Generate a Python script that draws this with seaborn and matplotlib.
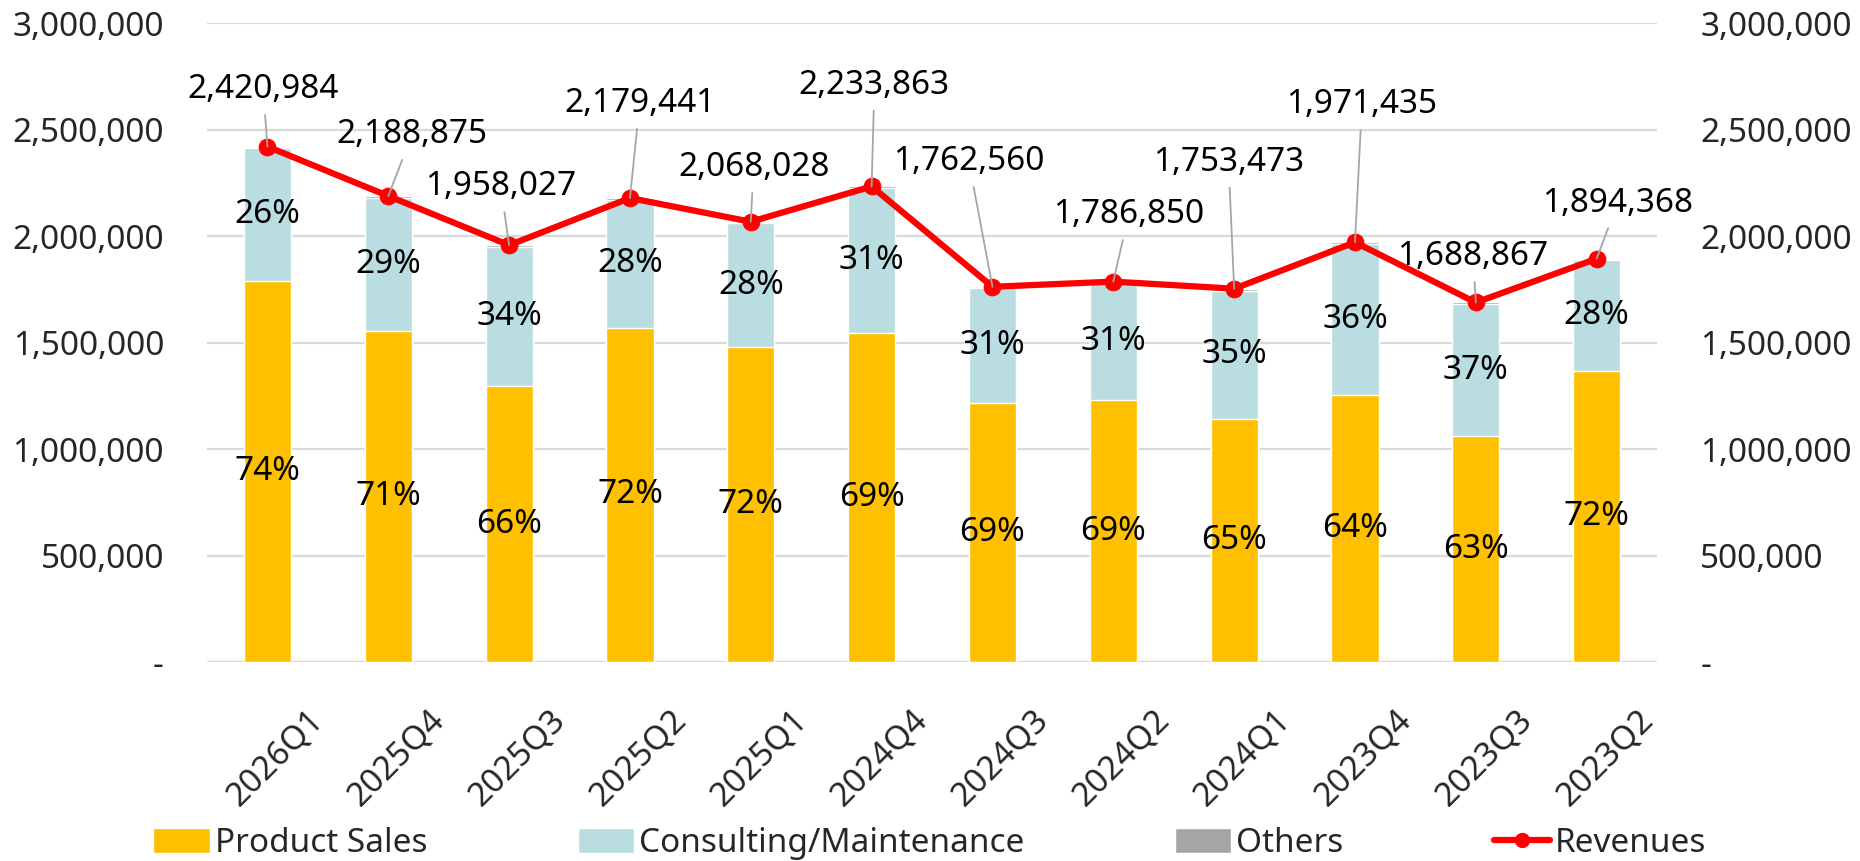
import numpy as np
import pandas as pd
import matplotlib
matplotlib.use("Agg")
import matplotlib.pyplot as plt
import matplotlib.transforms as mtransforms
from matplotlib.patches import Patch
from matplotlib.lines import Line2D
from matplotlib.ticker import FuncFormatter
import seaborn as sns

# quarterly revenue breakdown
quarters = ["2026Q1", "2025Q4", "2025Q3", "2025Q2", "2025Q1", "2024Q4",
            "2024Q3", "2024Q2", "2024Q1", "2023Q4", "2023Q3", "2023Q2"]
revenues = [2420984, 2188875, 1958027, 2179441, 2068028, 2233863,
            1762560, 1786850, 1753473, 1971435, 1688867, 1894368]
product_sales = [1790000, 1555000, 1295000, 1570000, 1480000, 1545000,
                 1215000, 1230000, 1140000, 1255000, 1060000, 1365000]
consulting = [623000, 626000, 655000, 601000, 580000, 681000,
              540000, 549000, 605000, 708000, 621000, 521000]
others = [8000, 8000, 8000, 8000, 8000, 8000,
          8000, 8000, 8000, 8000, 8000, 8000]
product_pct = ["74%", "71%", "66%", "72%", "72%", "69%",
               "69%", "69%", "65%", "64%", "63%", "72%"]
consulting_pct = ["26%", "29%", "34%", "28%", "28%", "31%",
                  "31%", "31%", "35%", "36%", "37%", "28%"]

# where each revenue label sits relative to its point (points)
label_offsets = [(-3, 41), (17, 44), (-6, 42), (7, 68), (2, 39), (2, 73),
                 (-17, 90), (11, 48), (-4, 91), (5, 99), (-2, 33), (15, 40)]

df = pd.DataFrame({"quarter": quarters, "product": product_sales,
                   "consulting": consulting, "others": others})
df["lvl1"] = df["product"]
df["lvl2"] = df["product"] + df["consulting"]
df["lvl3"] = df["lvl2"] + df["others"]

sns.set_theme(style="white")
plt.rcParams["font.family"] = ["Noto Sans", "DejaVu Sans"]
FS = 24

ORANGE = "#FFC000"
BLUE = "#B9DDE1"
GREY = "#A5A5A5"
RED = "#FF0000"

fig = plt.figure(figsize=(18.6, 8.61), dpi=100)
ax = fig.add_axes([0.1113, 0.2311, 0.7796, 0.7418])

W = 0.39
sns.barplot(data=df, x="quarter", y="lvl3", color=GREY, width=W,
            saturation=1, ax=ax, zorder=2)
sns.barplot(data=df, x="quarter", y="lvl2", color=BLUE, width=W,
            saturation=1, ax=ax, zorder=2)
sns.barplot(data=df, x="quarter", y="lvl1", color=ORANGE, width=W,
            saturation=1, ax=ax, zorder=2)

xs = np.arange(len(quarters))
sns.lineplot(x=xs, y=revenues, color=RED, lw=4.5, marker="o", markersize=12,
             markeredgecolor=RED, ax=ax, zorder=4)

# percentage labels in the middle of each segment
for i in xs:
    ax.text(i, product_sales[i] / 2, product_pct[i], ha="center", va="center",
            fontsize=FS, color="black", zorder=5)
    ax.text(i, product_sales[i] + consulting[i] / 2, consulting_pct[i],
            ha="center", va="center", fontsize=FS, color="black", zorder=5)

# revenue labels with leader lines
for i in xs:
    ax.annotate(f"{revenues[i]:,}", xy=(i, revenues[i]), xytext=label_offsets[i],
                textcoords="offset points", ha="center", va="center",
                fontsize=FS, color="black", zorder=6,
                arrowprops=dict(arrowstyle="-", color="#A6A6A6", lw=1.3,
                                shrinkA=4, shrinkB=0))

ax.set_xlim(-0.5, len(quarters) - 0.5)
ax.set_ylim(0, 3000000)
ax.set_yticks(np.arange(0, 3000001, 500000))
fmt = FuncFormatter(lambda v, p: "-" if v == 0 else f"{v:,.0f}")
ax.yaxis.set_major_formatter(fmt)
ax.grid(axis="y", color="#D9D9D9", lw=1.6, zorder=0)
ax.set_axisbelow(True)
for s in ax.spines.values():
    s.set_visible(False)
ax.set_xlabel("")
ax.set_ylabel("")
ax.tick_params(axis="y", length=0, pad=31, labelsize=FS)
ax.tick_params(axis="x", length=0, pad=30, labelsize=FS)
shift = mtransforms.ScaledTranslation(6 / 72, 0, fig.dpi_scale_trans)
for lbl in ax.get_xticklabels():
    lbl.set_rotation(45)
    lbl.set_ha("center")
    lbl.set_transform(lbl.get_transform() + shift)

ax2 = ax.twinx()
ax2.set_ylim(ax.get_ylim())
ax2.set_yticks(np.arange(0, 3000001, 500000))
ax2.yaxis.set_major_formatter(fmt)
ax2.tick_params(axis="y", length=0, pad=31, labelsize=FS)
for s in ax2.spines.values():
    s.set_visible(False)
ax2.grid(False)

handles = [Patch(facecolor=ORANGE, label="Product Sales"),
           Patch(facecolor=BLUE, label="Consulting/Maintenance"),
           Patch(facecolor=GREY, label="Others"),
           Line2D([0], [0], color=RED, lw=4.5, marker="o", markersize=10,
                  label="Revenues")]
fig.legend(handles=handles, loc="center", bbox_to_anchor=(0.5, 0.02),
           ncol=4, frameon=False, fontsize=FS, handlelength=1.7,
           handleheight=0.8, handletextpad=0.15, columnspacing=4.5)

plt.savefig("out.png", dpi=100)
plt.close()
